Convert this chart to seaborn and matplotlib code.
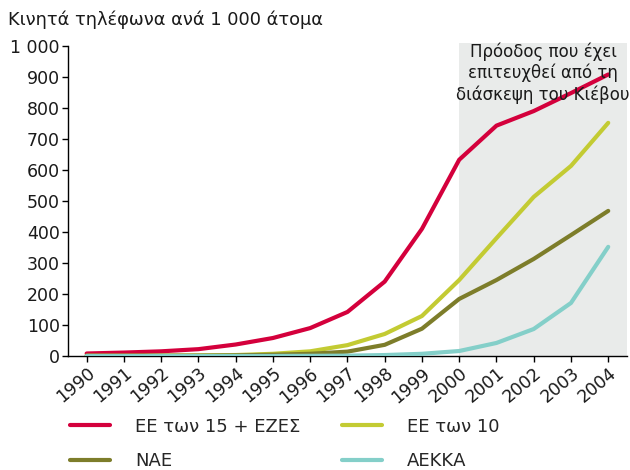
import matplotlib
matplotlib.use("Agg")
import matplotlib.pyplot as plt
import seaborn as sns
import pandas as pd

years = list(range(1990, 2005))
eu15_efta = [8, 11, 15, 22, 37, 58, 90, 142, 240, 410, 633, 743, 790, 848, 908]
eu10 = [1, 1, 1, 2, 3, 7, 15, 35, 71, 129, 245, 380, 513, 613, 752]
see = [0.5, 0.5, 1, 1, 2, 4, 7, 14, 36, 88, 184, 245, 313, 390, 468]
eecca = [0, 0, 0, 0, 0, 0, 0.5, 1, 3, 7, 16, 42, 87, 171, 352]
series_names = ["ΕΕ των 15 + ΕΖΕΣ", "ΕΕ των 10", "NAE", "ΑΕΚΚΑ"]
colors = ["#d4003c", "#c3cb33", "#7d7d2a", "#84cfc9"]
title = "Κινητά τηλέφωνα ανά 1 000 άτομα"
note = "Πρόοδος που έχει\nεπιτευχθεί από τη\nδιάσκεψη του Κιέβου"
ytick_vals = list(range(0, 1001, 100))
ytick_labels = ["0", "100", "200", "300", "400", "500", "600", "700", "800", "900", "1 000"]

rows = []
for name, vals in zip(series_names, [eu15_efta, eu10, see, eecca]):
    for y, v in zip(years, vals):
        rows.append({"year": y, "value": v, "series": name})
df = pd.DataFrame(rows)

sns.set_theme(style="white")
plt.rcParams["font.family"] = ["DejaVu Sans"]

fig = plt.figure(figsize=(6.3, 4.7), dpi=100)
ax = fig.add_axes([0.108, 0.2426, 0.887, 0.6596])

ax.axvspan(2000, 2004.5, ymin=0, ymax=1.01, color="#e9ebea", zorder=0, lw=0, clip_on=False)

sns.lineplot(data=df, x="year", y="value", hue="series", palette=dict(zip(series_names, colors)),
             hue_order=series_names, linewidth=3, ax=ax, legend=False, zorder=3)

ax.set_xlim(1989.5, 2004.5)
ax.set_ylim(0, 1000)
ax.set_xticks(years)
ax.set_xticklabels([str(y) for y in years], rotation=40, ha="right", rotation_mode="anchor", fontsize=12.5, color="#1a1a1a")
ax.set_yticks(ytick_vals)
ax.set_yticklabels(ytick_labels, fontsize=12.5, color="#1a1a1a")
ax.tick_params(axis="both", direction="out", length=4, width=1, color="black", pad=2, left=True, bottom=True)
ax.set_xlabel("")
ax.set_ylabel("")
for s in ["top", "right"]:
    ax.spines[s].set_visible(False)
for s in ["left", "bottom"]:
    ax.spines[s].set_color("black")
    ax.spines[s].set_linewidth(1)

fig.text(0.013, 0.957, title, fontsize=12.8, color="#1a1a1a", va="center", ha="left")
ax.text(2002.25, 1012, note, fontsize=12, color="#1a1a1a", ha="center", va="top", linespacing=1.2, zorder=4)

handles = [plt.Line2D([], [], color=c, lw=3) for c in colors]
order = [0, 2, 1, 3]
fig.legend([handles[i] for i in order], [series_names[i] for i in order], ncol=2,
           loc="lower left", bbox_to_anchor=(0.111, 0.0), frameon=False, fontsize=13,
           borderpad=0, borderaxespad=0,
           handlelength=2.2, handletextpad=1.4, columnspacing=2.3, labelspacing=0.9)

fig.savefig("out.png", dpi=100)
